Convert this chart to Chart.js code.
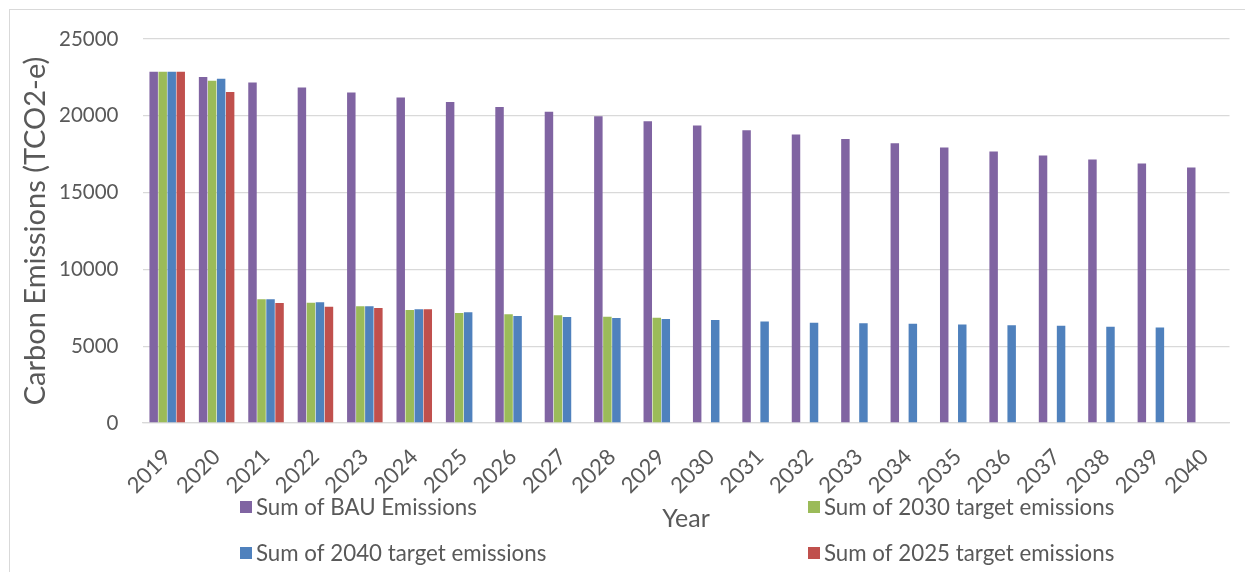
<!DOCTYPE html>
<html>
<head>
<meta charset="utf-8">
<title>Carbon Emissions by Year</title>
<script src="https://cdn.jsdelivr.net/npm/chart.js@4/dist/chart.umd.min.js"></script>
<style>
  html, body { margin: 0; padding: 0; background: #ffffff; overflow: hidden; }
  #wrap { position: relative; width: 1245px; height: 572px; }
  #frame { position: absolute; left: 9px; top: 9px; width: 1300px; height: 700px; border: 1px solid #D9D9D9; box-sizing: border-box; pointer-events: none; }
  canvas { position: absolute; left: 0; top: 0; }
</style>
</head>
<body>
<div id="wrap">
  <div id="frame"></div>
  <canvas id="chart" width="1245" height="572"></canvas>
</div>
<script>
// Years on the category axis
const years = ['2019','2020','2021','2022','2023','2024','2025','2026','2027','2028','2029',
               '2030','2031','2032','2033','2034','2035','2036','2037','2038','2039','2040'];

// Business-as-usual emissions (TCO2-e)
const bauEmissions = [22870, 22522, 22174, 21848, 21522, 21196, 20891, 20565, 20261, 19978, 19652,
                      19370, 19054, 18783, 18490, 18217, 17935, 17674, 17413, 17152, 16891, 16630];

// Emissions under the 2030 target
const target2030 = [22870, 22283, 8053, 7833, 7595, 7357, 7161, 7075, 7010, 6920, 6858,
                    null, null, null, null, null, null, null, null, null, null, null];

// Emissions under the 2040 target
const target2040 = [22870, 22413, 8053, 7856, 7595, 7400, 7205, 6966, 6900, 6836, 6771,
                    6700, 6610, 6530, 6500, 6460, 6415, 6370, 6330, 6265, 6220, null];

// Emissions under the 2025 target
const target2025 = [22870, 21543, 7812, 7574, 7487, 7400, null, null, null, null, null,
                    null, null, null, null, null, null, null, null, null, null, null];

// Value axis ticks
const yTicks = [0, 5000, 10000, 15000, 20000, 25000];

const seriesNames = ['Sum of BAU Emissions', 'Sum of 2030 target emissions',
                     'Sum of 2040 target emissions', 'Sum of 2025 target emissions'];

const FONT = 'Lato, "Open Sans", sans-serif';
const TEXT = '#595959';
const GRID = '#D9D9D9';

// Two-column legend under the axis, laid out row by row
const gridLegend = {
  id: 'gridLegend',
  afterDraw(chart) {
    const ctx = chart.ctx;
    const cols = [240, 808];
    const rows = [507, 553];
    ctx.save();
    ctx.font = '22.3px ' + FONT;
    ctx.textBaseline = 'middle';
    ctx.textAlign = 'left';
    chart.data.datasets.forEach((ds, i) => {
      const x = cols[i % 2];
      const y = rows[Math.floor(i / 2)];
      ctx.fillStyle = ds.backgroundColor;
      ctx.fillRect(x, y - 6, 12, 12);
      ctx.fillStyle = TEXT;
      ctx.fillText(ds.label, x + 16, y + 1);
    });
    ctx.restore();
  }
};

new Chart(document.getElementById('chart'), {
  type: 'bar',
  data: {
    labels: years,
    datasets: [
      { label: seriesNames[0], data: bauEmissions, backgroundColor: '#8064A2' },
      { label: seriesNames[1], data: target2030, backgroundColor: '#9BBB59' },
      { label: seriesNames[2], data: target2040, backgroundColor: '#4F81BD' },
      { label: seriesNames[3], data: target2025, backgroundColor: '#C0504D' }
    ]
  },
  options: {
    responsive: false,
    animation: false,
    devicePixelRatio: 1,
    layout: { padding: { left: 0, top: 39, right: 15.5, bottom: 0 } },
    datasets: { bar: { categoryPercentage: 0.73, barPercentage: 0.94, borderWidth: 0 } },
    plugins: {
      legend: { display: false },
      title: { display: false },
      tooltip: { enabled: false }
    },
    scales: {
      x: {
        grid: { display: false, drawTicks: false },
        border: { display: true, color: GRID, width: 1.3 },
        ticks: {
          autoSkip: false, minRotation: 45, maxRotation: 45,
          padding: 21, color: TEXT, font: { family: FONT, size: 22 }
        },
        title: {
          display: true, text: 'Year', color: TEXT,
          font: { family: FONT, size: 25 }, padding: { top: 0, bottom: 38 }
        },
        afterFit(scale) { scale.height = 149; }
      },
      y: {
        min: 0, max: 25000,
        afterBuildTicks(scale) { scale.ticks = yTicks.map(v => ({ value: v })); },
        grid: { color: GRID, lineWidth: 1.3, drawTicks: false },
        border: { display: false },
        ticks: {
          padding: 24, color: TEXT, font: { family: FONT, size: 20.5 },
          callback: (v) => String(v)
        },
        title: {
          display: true, text: 'Carbon Emissions (TCO2-e)', color: TEXT,
          font: { family: FONT, size: 29 }, padding: { top: 18, bottom: 0 }
        },
        afterFit(scale) { scale.width = 142.5; }
      }
    }
  },
  plugins: [gridLegend]
});
</script>
</body>
</html>
